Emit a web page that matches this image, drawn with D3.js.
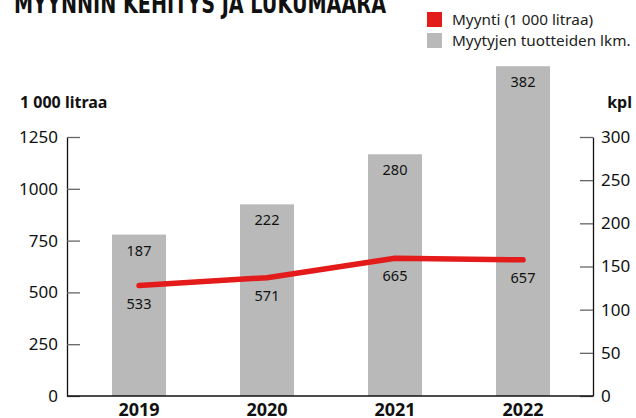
<!DOCTYPE html>
<html>
<head>
<meta charset="utf-8">
<script src="https://cdn.jsdelivr.net/npm/d3@7"></script>
<style>
  body { margin: 0; background: #fff; }
  svg { display: block; font-family: "Noto Sans", sans-serif; }
</style>
</head>
<body>
<div id="chart"></div>
<script>
const years = ["2019", "2020", "2021", "2022"];
const sales = [533, 571, 665, 657];       // 1 000 litraa
const products = [187, 222, 280, 382];    // kpl
const leftTicks = [0, 250, 500, 750, 1000, 1250];
const rightTicks = [0, 50, 100, 150, 200, 250, 300];

const w = 636, h = 418;
const red = "#e31b1b", grey = "#b8b9b8";

const svg = d3.select("#chart").append("svg").attr("width", w).attr("height", h);

const x = d3.scalePoint().domain(years).range([139, 523]);
const yL = d3.scaleLinear().domain([0, 1250]).range([396, 137]);
const yR = d3.scaleLinear().domain([0, 300]).range([396, 137]);
const barW = 54;

// title (cut at top edge)
svg.append("text")
  .attr("x", 14).attr("y", 13)
  .attr("textLength", 372).attr("lengthAdjust", "spacingAndGlyphs")
  .style("font-family", "'Liberation Sans Narrow', 'DejaVu Sans Condensed', sans-serif")
  .style("font-weight", 700).style("font-size", "27px").style("fill", "#111")
  .text("MYYNNIN KEHITYS JA LUKUMÄÄRÄ");

// legend
const legend = [{ label: "Myynti (1 000 litraa)", color: red }, { label: "Myytyjen tuotteiden lkm.", color: grey }];
const lg = svg.selectAll("g.legend").data(legend).enter().append("g")
  .attr("transform", (d, i) => `translate(427,${12 + i * 21})`);
lg.append("rect").attr("width", 15).attr("height", 15).attr("fill", d => d.color);
lg.append("text").attr("x", 25).attr("y", 12.5)
  .style("font-size", "15.3px").style("fill", "#222").text(d => d.label);

// bars
svg.selectAll("rect.bar").data(products).enter().append("rect")
  .attr("x", (d, i) => x(years[i]) - barW / 2)
  .attr("y", d => yR(d))
  .attr("width", barW)
  .attr("height", d => yR(0) - yR(d))
  .attr("fill", grey);

svg.selectAll("text.bar").data(products).enter().append("text")
  .attr("x", (d, i) => x(years[i]))
  .attr("y", d => yR(d) + 21)
  .attr("text-anchor", "middle")
  .style("font-size", "14.5px").style("fill", "#111")
  .text(d => d);

// axes
const left = svg.append("g").attr("transform", "translate(67,0)")
  .call(d3.axisLeft(yL).tickValues(leftTicks).tickFormat(d3.format("d"))
    .tickSizeInner(-13).tickSizeOuter(0).tickPadding(9));
const right = svg.append("g").attr("transform", "translate(593,0)")
  .call(d3.axisRight(yR).tickValues(rightTicks).tickFormat(d3.format("d"))
    .tickSizeInner(-13).tickSizeOuter(0).tickPadding(8));
[left, right].forEach(g => {
  g.select(".domain").attr("stroke", "#111").attr("stroke-width", 1.3);
  g.selectAll(".tick line").attr("stroke", "#666").attr("stroke-width", 1.3);
  g.selectAll(".tick text").style("font-size", "17px").style("fill", "#111")
    .style("font-family", "'Noto Sans', sans-serif");
});

svg.append("line")
  .attr("x1", 67).attr("x2", 593).attr("y1", yL(0)).attr("y2", yL(0))
  .attr("stroke", "#111").attr("stroke-width", 1.5);

svg.selectAll("text.year").data(years).enter().append("text")
  .attr("x", d => x(d)).attr("y", 416)
  .attr("text-anchor", "middle")
  .style("font-size", "18px").style("font-weight", 700).style("fill", "#111")
  .text(d => d);

// axis titles
svg.append("text").attr("x", 20).attr("y", 108)
  .style("font-size", "16px").style("font-weight", 700).style("fill", "#111")
  .text("1 000 litraa");
svg.append("text").attr("x", 632).attr("y", 108).attr("text-anchor", "end")
  .style("font-size", "16px").style("font-weight", 700).style("fill", "#111")
  .text("kpl");

// line
svg.append("path").datum(sales)
  .attr("fill", "none").attr("stroke", red).attr("stroke-width", 5.5)
  .attr("stroke-linecap", "round").attr("stroke-linejoin", "round")
  .attr("d", d3.line().x((d, i) => x(years[i])).y(d => yL(d)));

svg.selectAll("text.sales").data(sales).enter().append("text")
  .attr("x", (d, i) => x(years[i]))
  .attr("y", d => yL(d) + 23)
  .attr("text-anchor", "middle")
  .style("font-size", "14.5px").style("fill", "#111")
  .text(d => d);
</script>
</body>
</html>
